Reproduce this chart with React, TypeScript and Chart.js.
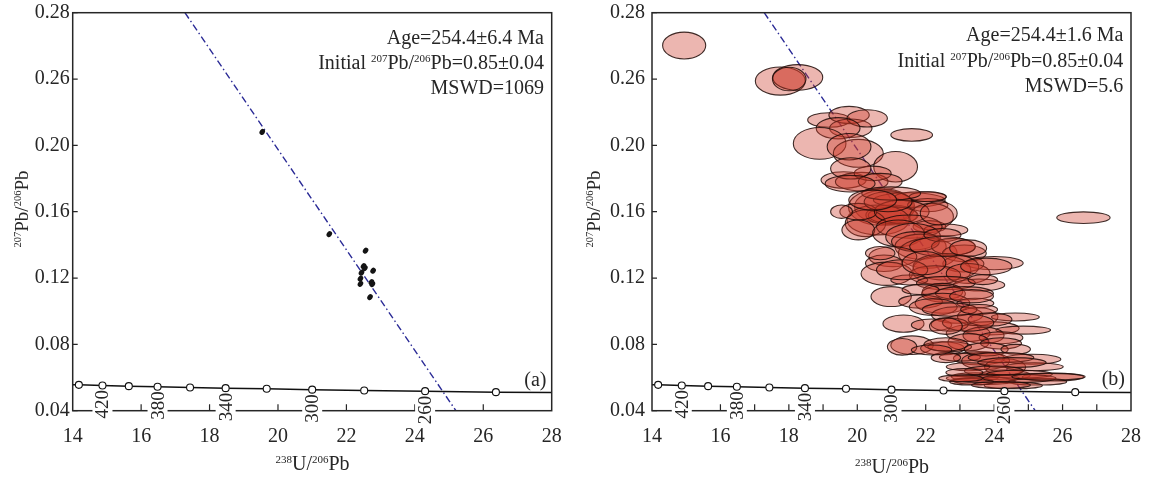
import { useEffect, useRef } from "react";
import { Chart, registerables } from "chart.js";

Chart.register(...registerables);

// ---------- data ----------
const xTickValues = [14, 16, 18, 20, 22, 24, 26, 28];
const yTickValues = [0.04, 0.08, 0.12, 0.16, 0.2, 0.24, 0.28];
const yTickLabels = ["0.04", "0.08", "0.12", "0.16", "0.20", "0.26", "0.28"];

const concordiaAges = [440, 420, 400, 380, 360, 340, 320, 300, 280, 260, 240];
const concordiaX = [14.18, 14.87, 15.64, 16.48, 17.43, 18.47, 19.67, 21.0, 22.52, 24.3, 26.37];
const concordiaY = [0.0556, 0.0552, 0.0548, 0.0544, 0.054, 0.0536, 0.0532, 0.0527, 0.0522, 0.0518, 0.0512];
const concordiaLineX = [14.0, ...concordiaX, 28.0];
const concordiaLineY = [0.0557, ...concordiaY, 0.0509];
const labelledAges = [420, 380, 340, 300, 260];

const discordiaX = [17.28, 25.2];
const discordiaY = [0.28, 0.04];

// panel (a): analyses [x, y]
const spotsA: number[][] = [
  [19.54, 0.2081], [21.5, 0.1465], [22.56, 0.1365], [22.5, 0.1272], [22.54, 0.126],
  [22.78, 0.1244], [22.44, 0.1232], [22.41, 0.1196], [22.41, 0.1165], [22.73, 0.1175],
  [22.76, 0.1163], [22.69, 0.1085],
];

// panel (b): analyses [x, y, half-width x, half-height y]
const ellipsesB: number[][] = [
  [14.94, 0.2602, 0.63, 0.0081], [17.75, 0.2388, 0.73, 0.0085], [18.26, 0.241, 0.73, 0.0077],
  [18.01, 0.24, 0.49, 0.0071],
  [19.17, 0.2153, 0.62, 0.0044], [19.76, 0.2183, 0.59, 0.0052], [19.81, 0.2103, 0.62, 0.0056],
  [20.29, 0.2163, 0.59, 0.0052], [19.44, 0.2103, 0.64, 0.0064], [18.9, 0.2012, 0.77, 0.0096],
  [20.03, 0.1952, 0.73, 0.0084], [19.76, 0.1992, 0.64, 0.008], [21.12, 0.1871, 0.64, 0.0092],
  [21.59, 0.2063, 0.61, 0.0038], [19.6, 0.1791, 0.66, 0.005], [20.13, 0.1781, 0.77, 0.0056],
  [20.45, 0.1831, 0.54, 0.0044], [20.67, 0.1781, 0.64, 0.005], [19.81, 0.1861, 0.59, 0.0064],
  [19.79, 0.1769, 0.73, 0.005],
  [20.78, 0.163, 0.86, 0.01], [20.71, 0.1628, 0.97, 0.011], [21.0, 0.158, 0.75, 0.006],
  [21.05, 0.1578, 0.73, 0.005], [20.61, 0.155, 0.91, 0.009], [20.24, 0.153, 0.59, 0.008],
  [21.52, 0.167, 1.05, 0.0044], [21.85, 0.169, 0.75, 0.003], [22.06, 0.164, 0.59, 0.004],
  [22.17, 0.157, 0.64, 0.008], [22.11, 0.151, 0.48, 0.0036], [20.03, 0.16, 0.54, 0.005],
  [22.59, 0.149, 0.64, 0.0036], [21.3, 0.16, 0.8, 0.007], [20.9, 0.166, 0.7, 0.006],
  [19.54, 0.16, 0.32, 0.004], [20.03, 0.149, 0.48, 0.006], [21.52, 0.151, 0.96, 0.007],
  [21.2, 0.147, 0.75, 0.008], [22.38, 0.159, 0.54, 0.007], [22.06, 0.169, 0.54, 0.003],
  [20.99, 0.171, 0.86, 0.004], [20.45, 0.167, 0.7, 0.006],
  [21.63, 0.1449, 0.8, 0.008], [21.85, 0.1389, 0.75, 0.0076], [22.06, 0.1349, 0.86, 0.009],
  [21.7, 0.142, 0.7, 0.006], [21.04, 0.1329, 0.7, 0.006], [20.78, 0.1289, 0.54, 0.005],
  [22.49, 0.1459, 0.54, 0.004], [22.81, 0.1389, 0.64, 0.005], [23.13, 0.1349, 0.64, 0.005],
  [24.0, 0.129, 0.85, 0.004], [23.1, 0.1286, 0.6, 0.005], [22.47, 0.1246, 0.85, 0.009],
  [22.59, 0.1268, 0.96, 0.008], [20.86, 0.1226, 0.75, 0.007], [22.27, 0.1218, 0.75, 0.0056],
  [23.24, 0.1228, 0.64, 0.006], [21.52, 0.1188, 0.54, 0.003], [23.56, 0.1158, 0.75, 0.0036],
  [22.49, 0.139, 0.96, 0.006], [23.24, 0.138, 0.54, 0.005], [20.67, 0.135, 0.43, 0.004],
  [21.31, 0.125, 0.75, 0.006], [21.95, 0.129, 0.64, 0.007], [23.77, 0.127, 0.75, 0.005],
  [22.59, 0.117, 0.86, 0.004], [23.67, 0.119, 0.43, 0.003],
  [22.49, 0.1118, 0.59, 0.005], [22.52, 0.1105, 0.64, 0.005], [23.13, 0.1108, 0.85, 0.004],
  [20.99, 0.1088, 0.59, 0.006], [21.85, 0.1058, 0.64, 0.004], [22.49, 0.1048, 0.8, 0.006],
  [23.45, 0.1048, 0.54, 0.003], [22.22, 0.1025, 0.7, 0.005], [22.92, 0.0977, 0.75, 0.005],
  [23.52, 0.0967, 0.59, 0.0055], [24.62, 0.0965, 0.7, 0.0024], [21.35, 0.0925, 0.6, 0.0052],
  [22.17, 0.0917, 0.59, 0.0036], [23.88, 0.0897, 0.85, 0.004], [24.85, 0.0886, 0.8, 0.0024],
  [23.24, 0.0867, 0.64, 0.005], [23.69, 0.0854, 0.6, 0.005],
  [21.85, 0.113, 0.54, 0.003], [23.34, 0.109, 0.64, 0.004], [22.7, 0.101, 0.8, 0.004],
  [23.56, 0.101, 0.54, 0.003], [23.88, 0.095, 0.64, 0.004], [22.7, 0.092, 0.54, 0.004],
  [23.24, 0.093, 0.75, 0.005], [24.2, 0.084, 0.64, 0.0036], [22.59, 0.091, 0.48, 0.005],
  [21.6, 0.0795, 0.62, 0.0056], [22.49, 0.0776, 0.64, 0.004], [23.25, 0.0813, 0.6, 0.0052],
  [24.2, 0.0806, 0.6, 0.0034], [22.7, 0.0786, 0.64, 0.003], [23.56, 0.0716, 0.75, 0.004],
  [23.0, 0.0723, 0.6, 0.0024], [25.1, 0.071, 0.85, 0.003], [23.75, 0.07, 0.7, 0.0052],
  [24.32, 0.0663, 0.6, 0.005], [23.24, 0.0665, 0.64, 0.0024], [25.17, 0.0665, 0.85, 0.0024],
  [22.59, 0.08, 0.64, 0.004], [23.77, 0.077, 0.64, 0.004], [24.63, 0.077, 0.43, 0.003],
  [22.59, 0.072, 0.43, 0.003], [24.2, 0.072, 0.96, 0.003], [24.52, 0.069, 1.0, 0.003],
  [21.31, 0.0785, 0.43, 0.005], [22.17, 0.0766, 0.59, 0.003],
  [23.45, 0.0605, 0.7, 0.0024], [24.31, 0.0615, 0.75, 0.003], [25.72, 0.0603, 0.9, 0.0024],
  [23.7, 0.058, 0.9, 0.0022], [25.27, 0.0575, 0.85, 0.002], [24.56, 0.0552, 0.85, 0.002],
  [23.34, 0.0575, 0.64, 0.002], [23.99, 0.064, 0.86, 0.003], [24.74, 0.062, 0.96, 0.0024],
  [23.13, 0.063, 0.54, 0.0024], [23.67, 0.0595, 1.07, 0.0024], [24.74, 0.0595, 1.07, 0.0024],
  [24.2, 0.0555, 0.86, 0.002], [23.02, 0.0595, 0.64, 0.002], [25.59, 0.0605, 1.07, 0.002],
  [26.61, 0.1564, 0.78, 0.0035],
];

// ---------- text ----------
type Part = { t: string; sup?: boolean };
const initialLine: Part[] = [
  { t: "Initial " }, { t: "207", sup: true }, { t: "Pb/" }, { t: "206", sup: true }, { t: "Pb=0.85±0.04" },
];
const yTitle: Part[] = [{ t: "207", sup: true }, { t: "Pb/" }, { t: "206", sup: true }, { t: "Pb" }];
const xTitle: Part[] = [{ t: "238", sup: true }, { t: "U/" }, { t: "206", sup: true }, { t: "Pb" }];

const FONT = "'Liberation Serif', 'Times New Roman', serif";
const INK = "#262626";

interface PanelCfg {
  canvasLeft: number;
  canvasWidth: number;
  plotLeft: number;
  padRight: number;
  yLabelPad: number;
  tickStep: number;
  ellipses: number[][];
  fill: string;
  stroke: string | null;
  rotation: number;
  legend: Part[][];
  legendRight: number;
  legendBaselines: number[];
  letter: string;
  letterRight: number;
  letterBaseline: number;
  xTitleX: number;
  xTitleBaseline: number;
  yTitleX: number;
}

const panelA: PanelCfg = {
  canvasLeft: 0,
  canvasWidth: 578,
  plotLeft: 72.7,
  padRight: 578 - 551.7,
  yLabelPad: 3,
  tickStep: 2,
  ellipses: spotsA.map(([x, y]) => [x, y, 0.075, 0.0019]),
  fill: "#141414",
  stroke: null,
  rotation: 0.6,
  legend: [[{ t: "Age=254.4±6.4 Ma" }], initialLine, [{ t: "MSWD=1069" }]],
  legendRight: 544,
  legendBaselines: [43.5, 69, 94],
  letter: "(a)",
  letterRight: 546.5,
  letterBaseline: 386,
  xTitleX: 312.5,
  xTitleBaseline: 470,
  yTitleX: 28,
};

const panelB: PanelCfg = {
  canvasLeft: 578,
  canvasWidth: 576,
  plotLeft: 652 - 578,
  padRight: 576 - (1131 - 578),
  yLabelPad: 7,
  tickStep: 1,
  ellipses: ellipsesB,
  fill: "rgba(204,58,40,0.37)",
  stroke: "rgba(30,12,8,0.85)",
  rotation: 0,
  legend: [[{ t: "Age=254.4±1.6 Ma" }], initialLine, [{ t: "MSWD=5.6" }]],
  legendRight: 1123.3 - 578,
  legendBaselines: [40.7, 66.7, 91.7],
  letter: "(b)",
  letterRight: 1125 - 578,
  letterBaseline: 385,
  xTitleX: 892 - 578,
  xTitleBaseline: 473,
  yTitleX: 22,
};

function richWidth(ctx: CanvasRenderingContext2D, parts: Part[], main: number, sup: number) {
  let w = 0;
  for (const p of parts) {
    ctx.font = `${p.sup ? sup : main}px ${FONT}`;
    w += ctx.measureText(p.t).width;
  }
  return w;
}

function drawRich(
  ctx: CanvasRenderingContext2D, parts: Part[], x: number, y: number,
  align: "left" | "right" | "center", main = 20, sup = 11, rise = 7,
) {
  const w = richWidth(ctx, parts, main, sup);
  let cx = align === "left" ? x : align === "right" ? x - w : x - w / 2;
  ctx.textAlign = "left";
  ctx.textBaseline = "alphabetic";
  for (const p of parts) {
    ctx.font = `${p.sup ? sup : main}px ${FONT}`;
    ctx.fillText(p.t, cx, p.sup ? y - rise : y);
    cx += ctx.measureText(p.t).width;
  }
}

function panelPlugin(cfg: PanelCfg) {
  return {
    id: "panelDecor",
    afterDatasetDraw(chart: any, args: any) {
      if (args.index !== 2) return;
      const { ctx, chartArea: a } = chart;
      const xs = chart.scales.x;
      const ys = chart.scales.y;
      ctx.save();
      ctx.beginPath();
      ctx.rect(a.left, a.top, a.right - a.left, a.bottom - a.top);
      ctx.clip();
      for (const e of cfg.ellipses) {
        const cx = xs.getPixelForValue(e[0]);
        const cy = ys.getPixelForValue(e[1]);
        const rx = xs.getPixelForValue(e[0] + e[2]) - cx;
        const ry = cy - ys.getPixelForValue(e[1] + e[3]);
        ctx.beginPath();
        ctx.ellipse(cx, cy, rx, ry, cfg.rotation, 0, Math.PI * 2);
        ctx.fillStyle = cfg.fill;
        ctx.fill();
        if (cfg.stroke) {
          ctx.strokeStyle = cfg.stroke;
          ctx.lineWidth = 1.1;
          ctx.stroke();
        }
      }
      ctx.restore();
    },
    afterDraw(chart: any) {
      const { ctx, chartArea: a } = chart;
      const xs = chart.scales.x;
      const ys = chart.scales.y;
      ctx.save();
      // frame
      ctx.strokeStyle = INK;
      ctx.lineWidth = 1.5;
      ctx.strokeRect(a.left, a.top, a.right - a.left, a.bottom - a.top);
      // inward ticks
      ctx.lineWidth = 1.2;
      ctx.beginPath();
      for (let v = 14 + cfg.tickStep; v < 28; v += cfg.tickStep) {
        const px = xs.getPixelForValue(v);
        ctx.moveTo(px, a.bottom);
        ctx.lineTo(px, a.bottom - 6.5);
      }
      for (const v of yTickValues) {
        const py = ys.getPixelForValue(v);
        ctx.moveTo(a.left, py);
        ctx.lineTo(a.left + 5, py);
      }
      ctx.stroke();
      // concordia age labels
      for (const age of labelledAges) {
        const i = concordiaAges.indexOf(age);
        const px = xs.getPixelForValue(concordiaX[i]);
        const py = ys.getPixelForValue(concordiaY[i]) + 4.5;
        ctx.save();
        ctx.translate(px, py);
        ctx.rotate(-Math.PI / 2);
        ctx.font = `19px ${FONT}`;
        const w = ctx.measureText(String(age)).width;
        ctx.fillStyle = "#fff";
        ctx.fillRect(-w - 1, -10, w + 1, 20);
        ctx.fillStyle = INK;
        ctx.textAlign = "right";
        ctx.textBaseline = "middle";
        ctx.fillText(String(age), 0, 1);
        ctx.restore();
      }
      ctx.fillStyle = INK;
      // legend
      cfg.legend.forEach((line, k) => {
        drawRich(ctx, line, cfg.legendRight, cfg.legendBaselines[k], "right", 20, 11, 7);
      });
      // panel letter
      drawRich(ctx, [{ t: cfg.letter }], cfg.letterRight, cfg.letterBaseline, "right", 20);
      // x title
      drawRich(ctx, xTitle, cfg.xTitleX, cfg.xTitleBaseline, "center", 20, 11, 7);
      // y title
      ctx.save();
      ctx.translate(cfg.yTitleX, 209);
      ctx.rotate(-Math.PI / 2);
      drawRich(ctx, yTitle, 0, 0, "center", 19, 10.5, 7);
      ctx.restore();
      ctx.restore();
    },
  };
}

function makeChart(canvas: HTMLCanvasElement, cfg: PanelCfg) {
  const tickFont = { family: FONT, size: 20 };
  return new Chart(canvas, {
    type: "scatter",
    data: {
      datasets: [
        {
          label: "concordia ages",
          data: concordiaX.map((x, i) => ({ x, y: concordiaY[i] })),
          pointRadius: 3.5,
          pointBackgroundColor: "#fff",
          pointBorderColor: "#111",
          pointBorderWidth: 1.1,
          showLine: false,
        },
        {
          label: "concordia",
          data: concordiaLineX.map((x, i) => ({ x, y: concordiaLineY[i] })),
          showLine: true,
          borderColor: "#111",
          borderWidth: 1.5,
          pointRadius: 0,
        },
        {
          label: "analyses",
          data: cfg.ellipses.map((e) => ({ x: e[0], y: e[1] })),
          pointRadius: 0,
          showLine: false,
        },
        {
          label: "discordia",
          data: discordiaX.map((x, i) => ({ x, y: discordiaY[i] })),
          showLine: true,
          borderColor: "#2b2b96",
          borderWidth: 1.4,
          borderDash: [7, 3, 1.5, 3],
          pointRadius: 0,
        },
      ],
    } as any,
    options: {
      responsive: false,
      animation: false,
      events: [],
      layout: { padding: { top: 12.7, right: cfg.padRight, left: 0, bottom: 0 } },
      plugins: { legend: { display: false }, tooltip: { enabled: false } },
      scales: {
        x: {
          type: "linear",
          min: 14,
          max: 28,
          afterBuildTicks: (s: any) => {
            s.ticks = xTickValues.map((v) => ({ value: v }));
          },
          afterFit: (s: any) => {
            s.height = 481 - 410.7;
            s.paddingLeft = 0;
            s.paddingRight = 0;
            s.paddingTop = 0;
            s.paddingBottom = 0;
          },
          ticks: {
            font: tickFont,
            color: INK,
            padding: 14,
            maxRotation: 0,
            autoSkip: false,
            callback: (v: any) => String(v),
          },
          grid: { display: false, drawTicks: false },
          border: { display: false },
        },
        y: {
          type: "linear",
          min: 0.04,
          max: 0.28,
          afterBuildTicks: (s: any) => {
            s.ticks = yTickValues.map((v) => ({ value: v }));
          },
          afterFit: (s: any) => {
            s.width = cfg.plotLeft;
            s.paddingTop = 0;
            s.paddingBottom = 0;
            s.paddingLeft = 0;
            s.paddingRight = 0;
          },
          ticks: {
            font: tickFont,
            color: INK,
            padding: cfg.yLabelPad,
            autoSkip: false,
            callback: (_v: any, i: number) => yTickLabels[i],
          },
          grid: { display: false, drawTicks: false },
          border: { display: false },
        },
      },
    } as any,
    plugins: [panelPlugin(cfg)],
  });
}

export default function App() {
  const leftRef = useRef<HTMLCanvasElement>(null);
  const rightRef = useRef<HTMLCanvasElement>(null);
  useEffect(() => {
    const c1 = makeChart(leftRef.current!, panelA);
    const c2 = makeChart(rightRef.current!, panelB);
    return () => {
      c1.destroy();
      c2.destroy();
    };
  }, []);
  return (
    <div style={{ position: "fixed", left: 0, top: 0, width: 1154, height: 481, background: "#fff" }}>
      <canvas
        ref={leftRef}
        width={panelA.canvasWidth}
        height={481}
        style={{ position: "absolute", left: panelA.canvasLeft, top: 0, width: panelA.canvasWidth, height: 481 }}
      />
      <canvas
        ref={rightRef}
        width={panelB.canvasWidth}
        height={481}
        style={{ position: "absolute", left: panelB.canvasLeft, top: 0, width: panelB.canvasWidth, height: 481 }}
      />
    </div>
  );
}
